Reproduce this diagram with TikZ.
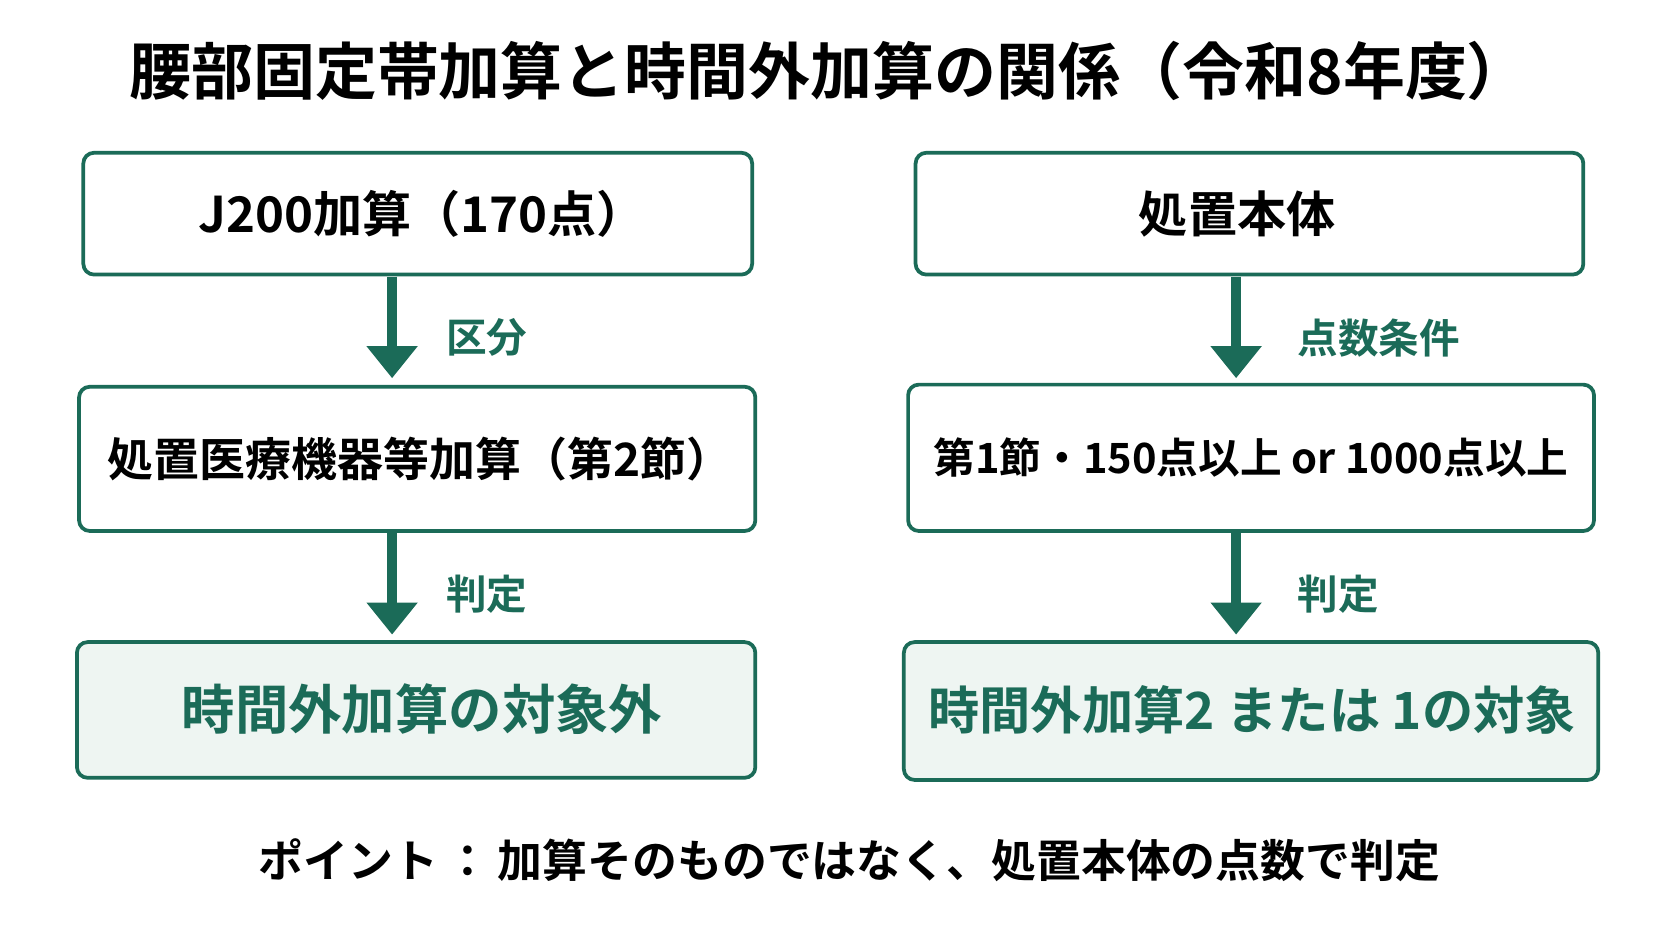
\documentclass[tikz,border=0pt]{standalone}
\usepackage{fontspec}
\setmainfont{Noto Sans CJK JP}[BoldFont={Noto Sans CJK JP Bold}]
\usetikzlibrary{arrows.meta}
\definecolor{gr}{HTML}{1B6B58}
\definecolor{lf}{HTML}{EEF5F2}
\begin{document}
\begin{tikzpicture}[x=1pt,y=-1pt,
 box/.style={draw=gr,line width=3.5pt,rounded corners=10pt,fill=white},
 res/.style={box,fill=lf},
 arr/.style={draw=gr,line width=9pt,-{Triangle[length=30pt,width=46pt]}},
 lab/.style={text=gr,font=\bfseries\fontsize{38}{42}\selectfont,anchor=west},
 bt/.style={font=\bfseries\fontsize{46}{52}\selectfont}]
\useasboundingbox (0,0) rectangle (1565,881);
\node[font=\bfseries\fontsize{58}{64}\selectfont] (title) at (776,66) {腰部固定帯加算と時間外加算の関係（令和8年度）};
\draw[box] (78,143) rectangle (704,257); \node[bt] (l1) at (395,200) {J200加算（170点）};
\draw[box] (74,362) rectangle (707,497); \node[bt,font=\bfseries\fontsize{43}{48}\selectfont] (l2) at (393,430) {処置医療機器等加算（第2節）};
\draw[res] (72,601) rectangle (707,728); \node[bt,text=gr,font=\bfseries\fontsize{50}{56}\selectfont] (l3) at (395,664) {時間外加算の対象外};
\draw[box] (857,143) rectangle (1482,257); \node[bt] (r1) at (1158,200) {処置本体};
\draw[box] (850,360) rectangle (1492,497); \node[bt,font=\bfseries\fontsize{39}{44}\selectfont] (r2) at (1171,428) {第1節・150点以上 or 1000点以上};
\draw[res] (846,601) rectangle (1496,730); \node[bt,text=gr,font=\bfseries\fontsize{48}{54}\selectfont] (r3) at (1172,664) {時間外加算2 または 1の対象};
\coordinate (a1) at (367,259); \coordinate (a2) at (367,354);
\coordinate (a3) at (367,499); \coordinate (a4) at (367,594);
\coordinate (b1) at (1157,259); \coordinate (b2) at (1157,354);
\coordinate (b3) at (1157,499); \coordinate (b4) at (1157,594);
\draw[arr] (a1) -- (a2); \draw[arr] (a3) -- (a4);
\draw[arr] (b1) -- (b2); \draw[arr] (b3) -- (b4);
\node[lab] (k1) at (414,316) {区分};
\node[lab] (k2) at (414,556) {判定};
\node[lab] (k3) at (1211,316) {点数条件};
\node[lab] (k4) at (1211,556) {判定};
\node[font=\bfseries\fontsize{42}{48}\selectfont] (foot) at (795,805) {ポイント\,：\,加算そのものではなく、処置本体の点数で判定};
\end{tikzpicture}
\end{document}
